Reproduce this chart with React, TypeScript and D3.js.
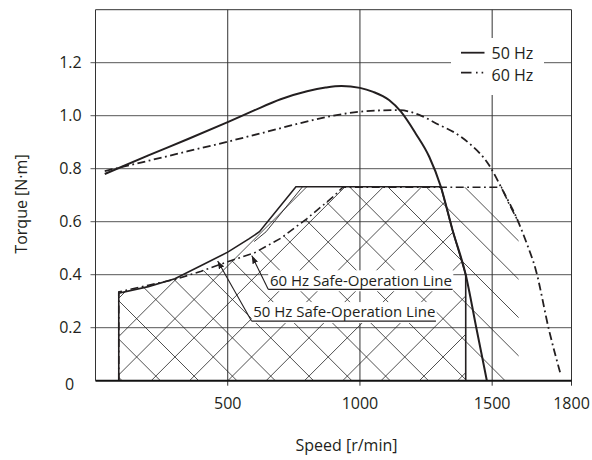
import React, { useRef, useEffect } from 'react';
import * as d3 from 'd3';

// maximum torque curves [r/min] -> [N·m]
const speed50 = [35, 200, 350, 500, 600, 700, 800, 870, 930, 1000, 1050, 1110, 1155, 1210, 1262, 1306, 1350, 1400, 1440, 1480];
const torque50 = [0.78, 0.85, 0.912, 0.976, 1.02, 1.062, 1.092, 1.106, 1.112, 1.105, 1.09, 1.059, 1.015, 0.934, 0.845, 0.732, 0.569, 0.4, 0.2, 0.0];

const speed60 = [35, 200, 350, 500, 650, 770, 900, 1000, 1080, 1150, 1224, 1300, 1360, 1413, 1488, 1539, 1596, 1630, 1665, 1715, 1760];
const torque60 = [0.791, 0.83, 0.866, 0.902, 0.94, 0.971, 1.0, 1.015, 1.02, 1.021, 1.003, 0.965, 0.935, 0.896, 0.814, 0.72, 0.606, 0.52, 0.418, 0.191, 0.02];

// safe-operation areas
const safe50Speed = [88, 88, 200, 300, 400, 500, 580, 620, 758, 1306, 1350, 1400, 1400];
const safe50Torque = [0, 0.33, 0.355, 0.385, 0.435, 0.485, 0.535, 0.562, 0.732, 0.732, 0.569, 0.4, 0];

const safe60Speed = [88, 88, 200, 300, 400, 500, 600, 700, 800, 900, 935, 1535, 1565, 1600, 1600];
const safe60Torque = [0, 0.335, 0.36, 0.382, 0.413, 0.449, 0.482, 0.537, 0.612, 0.695, 0.73, 0.73, 0.665, 0.598, 0];

// thin inner edge along the 50 Hz line
const innerSpeed = [600, 645, 783];
const innerTorque = [0.525, 0.562, 0.732];

const yTicks = [0.2, 0.4, 0.6, 0.8, 1.0, 1.2];
const yTickLabels = ['0.2', '0.4', '0.6', '0.8', '1.0', '1.2'];
const xTicks = [500, 1000, 1500, 1800];
const xGrid = [500, 1000, 1500];

// annotation anchors: [label speed, label torque, arrow speed, arrow torque]
const notes = [
  { text: '60 Hz Safe-Operation Line', at: [653, 0.345], tip: [591, 0.472] },
  { text: '50 Hz Safe-Operation Line', at: [590, 0.225], tip: [462, 0.452] },
];

export default function App() {
  const svgRef = useRef<SVGSVGElement>(null);

  useEffect(() => {
    if (!svgRef.current) return;
    const svg = d3.select(svgRef.current);
    svg.selectAll('*').remove();

    const x = d3.scaleLinear().domain([0, 1800]).range([95.5, 571.5]);
    const y = d3.scaleLinear().domain([0, 1.4]).range([380.7, 9.7]);
    const font = '"Open Sans", sans-serif';
    const ink = '#231f20';

    const zip = (a: number[], b: number[]) => a.map((v, i) => [v, b[i]] as [number, number]);
    const line = d3.line<[number, number]>().x(d => x(d[0])).y(d => y(d[1]));
    const curve = d3.line<[number, number]>().x(d => x(d[0])).y(d => y(d[1])).curve(d3.curveMonotoneX);

    // grid
    const grid = svg.append('g').attr('stroke', '#555').attr('stroke-width', 1);
    yTicks.forEach(t => {
      grid.append('line').attr('x1', x(0) - 5).attr('x2', x(1800)).attr('y1', y(t)).attr('y2', y(t));
    });
    xGrid.forEach(t => {
      grid.append('line').attr('x1', x(t)).attr('x2', x(t)).attr('y1', y(1.4)).attr('y2', y(0) + 5).attr('stroke', '#333');
    });
    // frame
    svg.append('path')
      .attr('d', `M${x(0)},${y(0)}V${y(1.4)}H${x(1800)}V${y(0) + 5}`)
      .attr('fill', 'none').attr('stroke', '#333').attr('stroke-width', 1);

    // hatching
    const defs = svg.append('defs');
    defs.append('clipPath').attr('id', 'clip50').append('path').attr('d', line(zip(safe50Speed, safe50Torque)) + 'Z');
    defs.append('clipPath').attr('id', 'clip60').append('path').attr('d', line(zip(safe60Speed, safe60Torque)) + 'Z');

    const spacing = 38.3;
    const hatch = (id: string, dir: number, phase: number) => {
      const grp = svg.append('g').attr('clip-path', `url(#${id})`).attr('stroke', '#222').attr('stroke-width', 0.8);
      for (let c = phase - spacing * 20; c < 1100; c += spacing) {
        grp.append('line').attr('x1', c).attr('y1', 0).attr('x2', c + dir * 460).attr('y2', 460);
      }
    };
    hatch('clip50', -1, 34);
    hatch('clip60', 1, 9.5);

    // safe area outlines
    const dashDot = '8 3.5 1.8 3.5';
    svg.append('path').attr('d', line(zip(safe60Speed, safe60Torque).slice(0, -1)))
      .attr('fill', 'none').attr('stroke', ink).attr('stroke-width', 1.6).attr('stroke-dasharray', dashDot);
    svg.append('path').attr('d', line(zip(safe50Speed, safe50Torque)))
      .attr('fill', 'none').attr('stroke', ink).attr('stroke-width', 1.6);
    svg.append('path').attr('d', line(zip(innerSpeed, innerTorque)))
      .attr('fill', 'none').attr('stroke', ink).attr('stroke-width', 0.9);

    // torque curves
    svg.append('path').attr('d', curve(zip(speed60, torque60)))
      .attr('fill', 'none').attr('stroke', ink).attr('stroke-width', 1.8).attr('stroke-dasharray', dashDot);
    svg.append('path').attr('d', curve(zip(speed50, torque50)))
      .attr('fill', 'none').attr('stroke', ink).attr('stroke-width', 2);

    // bottom axis
    svg.append('line').attr('x1', x(0)).attr('x2', x(1800)).attr('y1', y(0)).attr('y2', y(0))
      .attr('stroke', '#111').attr('stroke-width', 2);

    // annotations
    svg.append('defs').append('marker')
      .attr('id', 'arrow').attr('markerUnits', 'userSpaceOnUse')
      .attr('markerWidth', 9).attr('markerHeight', 6).attr('refX', 8).attr('refY', 3).attr('orient', 'auto')
      .append('path').attr('d', 'M0,0L8,3L0,6Z').attr('fill', ink);

    notes.forEach(n => {
      const ax = x(n.at[0]);
      const ay = y(n.at[1]);
      const box = svg.append('rect').attr('fill', '#fff');
      const t = svg.append('text').attr('x', ax + 1.7).attr('y', ay - 3.6).text(n.text)
        .attr('font-family', font).attr('font-size', 15).attr('fill', ink);
      const w = (t.node() as SVGTextElement).getComputedTextLength();
      box.attr('x', ax).attr('y', ay - 19).attr('width', w + 3).attr('height', 21);
      t.raise();
      svg.append('line').attr('x1', ax).attr('x2', ax + w + 2.3).attr('y1', ay).attr('y2', ay)
        .attr('stroke', ink).attr('stroke-width', 1.2);
      svg.append('line').attr('x1', ax).attr('y1', ay).attr('x2', x(n.tip[0])).attr('y2', y(n.tip[1]))
        .attr('stroke', ink).attr('stroke-width', 1.1).attr('marker-end', 'url(#arrow)');
    });

    // legend
    const lg = svg.append('g');
    lg.append('rect').attr('x', 451).attr('y', 38).attr('width', 93).attr('height', 57).attr('fill', '#fff');
    lg.append('line').attr('x1', 461).attr('x2', 484.5).attr('y1', 52.7).attr('y2', 52.7)
      .attr('stroke', ink).attr('stroke-width', 1.8);
    lg.append('line').attr('x1', 461).attr('x2', 485).attr('y1', 72.7).attr('y2', 72.7)
      .attr('stroke', ink).attr('stroke-width', 1.8).attr('stroke-dasharray', '10.5 4.5 1.6 4 1.6 20');
    lg.append('text').attr('x', 491.5).attr('y', 59).text('50 Hz')
      .attr('font-family', font).attr('font-size', 16).attr('fill', ink);
    lg.append('text').attr('x', 491.5).attr('y', 81).text('60 Hz')
      .attr('font-family', font).attr('font-size', 16).attr('fill', ink);

    // tick labels
    yTicks.forEach((t, i) => {
      svg.append('text').attr('x', 81.7).attr('y', y(t)).attr('dy', '0.36em').attr('text-anchor', 'end')
        .text(yTickLabels[i]).attr('font-family', font).attr('font-size', 16).attr('fill', ink);
    });
    svg.append('text').attr('x', 69.5).attr('y', y(0) + 3.5).attr('dy', '0.36em').attr('text-anchor', 'middle')
      .text('0').attr('font-family', font).attr('font-size', 16).attr('fill', ink);
    xTicks.forEach(t => {
      svg.append('text').attr('x', x(t)).attr('y', 409).attr('text-anchor', 'middle')
        .text(String(t)).attr('font-family', font).attr('font-size', 16).attr('fill', ink);
    });

    // axis titles
    svg.append('text').attr('x', 346.5).attr('y', 451).attr('text-anchor', 'middle').text('Speed [r/min]')
      .attr('font-family', font).attr('font-size', 16).attr('fill', ink);
    svg.append('text').attr('transform', 'translate(27,204) rotate(-90)').attr('text-anchor', 'middle').text('Torque [N·m]')
      .attr('font-family', font).attr('font-size', 16).attr('fill', ink);
  }, []);

  return (
    <svg
      ref={svgRef}
      width={592}
      height={460}
      style={{ position: 'absolute', left: 0, top: 0, background: '#fff' }}
    />
  );
}
